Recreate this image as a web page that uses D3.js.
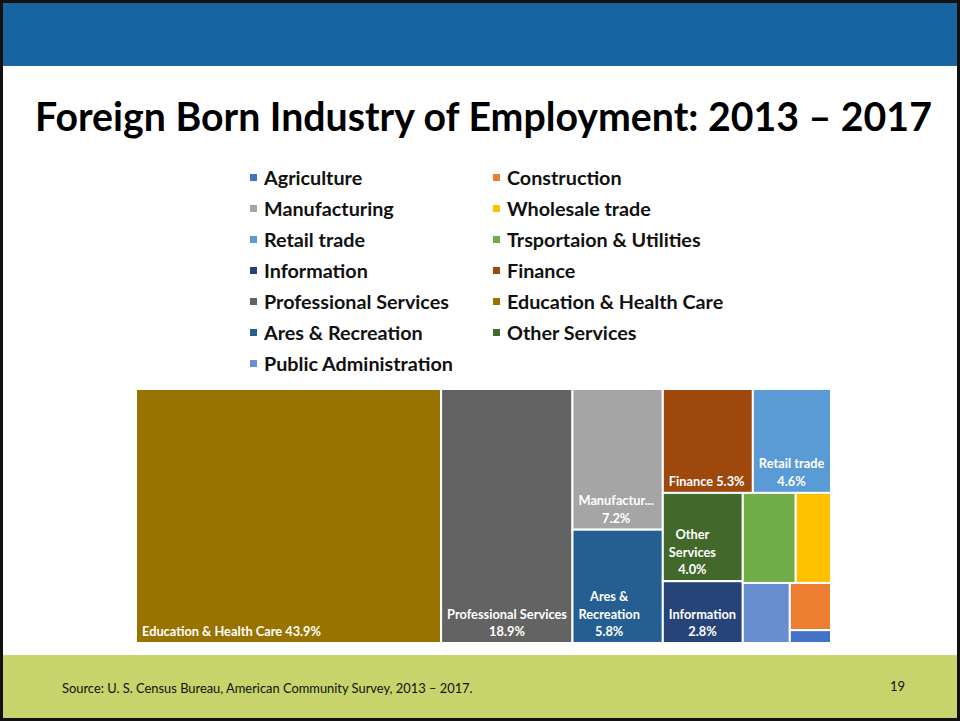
<!DOCTYPE html>
<html><head><meta charset="utf-8">
<script src="https://cdn.jsdelivr.net/npm/d3@7"></script>
<style>body{margin:0;background:#fff}svg{display:block}</style>
</head><body>
<script>
// ---- data ----
const categories = ["Agriculture","Construction","Manufacturing","Wholesale trade","Retail trade","Trsportaion & Utilities","Information","Finance","Professional Services","Education & Health Care","Ares & Recreation","Other Services","Public Administration"];
const values = [0.3, 1.1, 7.2, 1.8, 4.6, 2.7, 2.8, 5.3, 18.9, 43.9, 5.8, 4.0, 1.6];
const colors = ["#4472C4","#ED7D31","#A5A5A5","#FFC000","#5B9BD5","#70AD47","#264478","#9E480E","#636363","#997300","#255E91","#43682B","#698ED0"];
// grouping that reproduces the spreadsheet's squarified arrangement (tiled with slice/dice)
const layoutGroups = ["Education & Health Care", "Professional Services",
  ["Manufacturing", "Ares & Recreation"],
  [["Finance", "Retail trade"],
   [["Other Services", "Information"],
    [["Trsportaion & Utilities", "Wholesale trade"],
     ["Public Administration", ["Construction", "Agriculture"]]]]]];
const title = "Foreign Born Industry of Employment: 2013 – 2017";
const source = "Source: U. S. Census Bureau, American Community Survey, 2013 – 2017.";
const pageNumber = "19";

// ---- page ----
const W = 960, H = 721;
const svg = d3.select("body").append("svg").attr("width", W).attr("height", H);
const FONT = "Lato, 'Open Sans', sans-serif";

svg.append("rect").attr("x",0).attr("y",0).attr("width",W).attr("height",H).attr("fill","#fff");
svg.append("rect").attr("x",0).attr("y",0).attr("width",W).attr("height",66).attr("fill","#1764A0");
svg.append("rect").attr("x",0).attr("y",655).attr("width",W).attr("height",66).attr("fill","#C6D46B");

function fitFont(sel, target, base) {
  sel.attr("font-size", base);
  const w = sel.node().getComputedTextLength();
  const fs = base * target / w;
  sel.attr("font-size", fs);
  return fs;
}
function measureSize(str, weight, target, base) {
  const t = svg.append("text").attr("font-family", FONT).attr("font-weight", weight).text(str);
  const fs = fitFont(t, target, base);
  t.remove();
  return fs;
}

const tt = svg.append("text").attr("x", 35).attr("y", 131)
  .attr("font-family", FONT).attr("font-weight", 700).attr("fill", "#000").text(title);
fitFont(tt, 897, 36);

const st = svg.append("text").attr("x", 62).attr("y", 693)
  .attr("font-family", FONT).attr("fill", "#111").text(source);
fitFont(st, 411, 12);
svg.append("text").attr("x", 890).attr("y", 691).attr("font-family", FONT)
  .attr("font-size", 13).attr("fill", "#111").text(pageNumber);

// ---- legend ----
const legFs = measureSize("Professional Services", 700, 185, 19);
const legCol = d3.scaleOrdinal().domain([0,1]).range([250, 493]);
const legRow = d3.scaleLinear().domain([0,1]).range([178, 209]);
const leg = svg.append("g");
categories.forEach((c, i) => {
  const col = i % 2, row = Math.floor(i / 2);
  const g = leg.append("g").attr("transform", `translate(${legCol(col)},${legRow(row)})`);
  g.append("rect").attr("x", 0).attr("y", -4).attr("width", 7).attr("height", 7).attr("fill", colors[i]);
  g.append("text").attr("x", 14).attr("y", 0).attr("dy", "0.35em")
    .attr("font-family", FONT).attr("font-weight", 700).attr("font-size", legFs)
    .attr("fill", "#111").text(c);
});

// ---- treemap ----
const box = {x0: 136, y0: 389, x1: 831, y1: 643};
function toNode(g) {
  if (typeof g === "string") {
    const i = categories.indexOf(g);
    return {name: g, value: values[i], color: colors[i]};
  }
  return {children: g.map(toNode)};
}
const root = d3.hierarchy({children: layoutGroups.map(toNode)}).sum(d => d.value || 0);
d3.treemap().tile(d3.treemapSliceDice).size([box.x1 - box.x0, box.y1 - box.y0])(root);

const tm = svg.append("g").attr("transform", `translate(${box.x0},${box.y0})`);
const leaves = root.leaves();
tm.selectAll("rect").data(leaves).join("rect")
  .attr("x", d => d.x0).attr("y", d => d.y0)
  .attr("width", d => d.x1 - d.x0).attr("height", d => d.y1 - d.y0)
  .attr("fill", d => d.data.color).attr("stroke", "#fff").attr("stroke-width", 2);

const labFs = measureSize("Professional Services", 700, 120, 12);
const meas = svg.append("text").attr("font-family", FONT).attr("font-weight", 700).attr("font-size", labFs);
const tw = s => { meas.text(s); return meas.node().getComputedTextLength(); };
function wrap(str, avail) {
  const words = str.split(" ");
  const lines = [];
  let cur = "";
  words.forEach(w => {
    const cand = cur ? cur + " " + w : w;
    if (tw(cand) <= avail) cur = cand;
    else { if (cur) lines.push(cur); cur = w; }
  });
  if (cur) lines.push(cur);
  return lines.map(l => {
    if (tw(l) <= avail) return l;
    let s = l;
    while (s.length > 1 && tw(s + "...") > avail - 4) s = s.slice(0, -1);
    return s + "...";
  });
}
const lh = 17.5;
leaves.forEach(d => {
  const w = d.x1 - d.x0;
  if (w < 60) return;
  const lines = wrap(d.data.name + " " + d.data.value.toFixed(1) + "%", w - 9);
  const bw = d3.max(lines, tw);
  const cx = d.x0 + 6 + bw / 2;
  const g = tm.append("text").attr("font-family", FONT).attr("font-weight", 700)
    .attr("font-size", labFs).attr("fill", "#fff").attr("text-anchor", "middle");
  lines.forEach((l, k) => {
    g.append("tspan").attr("x", cx).attr("y", d.y1 - 7 - (lines.length - 1 - k) * lh).text(l);
  });
});
meas.remove();

// slide border
svg.append("rect").attr("x", 1.5).attr("y", 1.5).attr("width", W - 3).attr("height", H - 3)
  .attr("fill", "none").attr("stroke", "#111").attr("stroke-width", 3);
</script>
</body></html>
